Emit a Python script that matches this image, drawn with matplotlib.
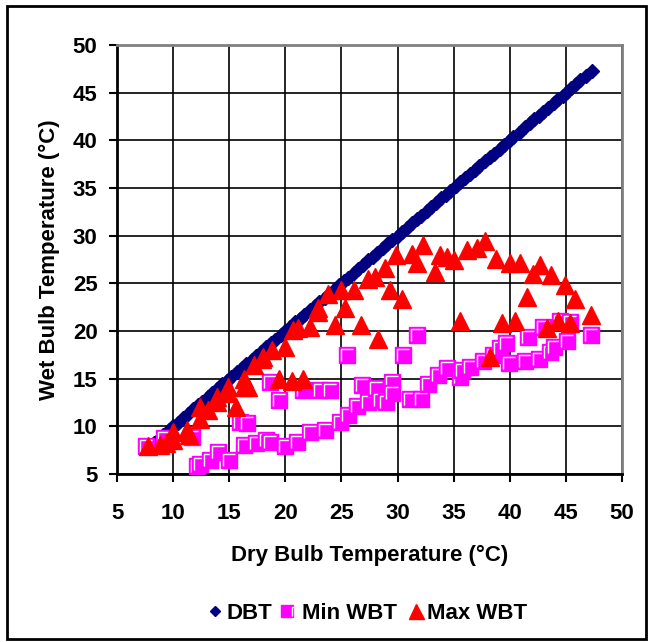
import matplotlib
matplotlib.use("Agg")
import matplotlib.pyplot as plt
from matplotlib.patches import Rectangle
from matplotlib.path import Path
from matplotlib.legend_handler import HandlerTuple

# Dry bulb temperatures (deg C), plotted against themselves as the reference line
dbt = [7.8, 8.3, 8.7, 9.1, 9.6, 10.0, 10.4, 10.9, 11.3, 11.8, 12.2, 12.6,
       13.1, 13.5, 13.9, 14.4, 14.8, 15.2, 15.7, 16.1, 16.5, 17.0, 17.4, 17.8,
       18.3, 18.7, 19.1, 19.6, 20.0, 20.4, 20.9, 21.3, 21.7, 22.2, 22.6, 23.0,
       23.5, 23.9, 24.3, 24.8, 25.2, 25.6, 26.1, 26.5, 26.9, 27.4, 27.8, 28.2,
       28.7, 29.1, 29.5, 30.0, 30.4, 30.8, 31.3, 31.7, 32.1, 32.6, 33.0, 33.4,
       33.9, 34.3, 34.7, 35.2, 35.6, 36.0, 36.5, 36.9, 37.3, 37.8, 38.2, 38.6,
       39.1, 39.5, 39.9, 40.3, 40.8, 41.4, 41.8, 42.2, 42.6, 43.0, 43.4, 43.9,
       44.3, 44.7, 45.1, 45.5, 45.9, 46.3, 46.8, 47.3]

# Minimum wet bulb temperature
min_x = [7.6, 9.2, 11.7, 12.1, 12.4, 13.3, 14.0, 15.0, 16.0, 16.3, 16.6, 17.4,
         18.3, 18.6, 18.6, 19.4, 20.0, 21.0, 21.6, 22.2, 23.1, 23.5, 24.0, 24.9,
         25.5, 25.6, 26.4, 26.8, 27.4, 28.1, 28.4, 29.0, 29.5, 29.5, 30.5, 31.1,
         31.7, 32.1, 32.7, 33.6, 34.4, 35.6, 35.7, 36.5, 37.6, 38.5, 39.1, 39.7,
         39.9, 41.4, 41.6, 42.6, 43.0, 43.6, 43.9, 44.5, 45.1, 45.4, 47.2]
min_wbt = [7.9, 8.8, 8.9, 5.8, 6.1, 6.5, 7.3, 6.5, 10.5, 8.0, 10.3, 8.2,
           8.6, 8.4, 14.7, 12.8, 7.9, 8.4, 13.8, 9.4, 13.8, 9.6, 13.8, 10.5,
           17.5, 11.2, 12.1, 14.3, 12.6, 14.0, 12.8, 12.6, 14.6, 13.5, 17.5, 12.9,
           19.6, 12.9, 14.4, 15.4, 16.1, 15.2, 15.9, 16.2, 16.8, 17.5, 18.2, 18.7,
           16.6, 16.9, 19.4, 17.1, 20.4, 17.8, 18.3, 21.1, 19.0, 20.9, 19.6]

# Maximum wet bulb temperature
max_x = [7.8, 8.8, 9.4, 10.0, 10.0, 11.2, 11.4, 12.4, 12.4, 13.1, 13.9, 13.9,
         14.9, 14.9, 15.6, 16.3, 16.3, 16.7, 17.2, 17.9, 18.0, 18.8, 19.4, 20.0,
         20.6, 20.7, 21.1, 21.6, 22.2, 22.9, 22.9, 23.8, 24.4, 25.0, 25.3, 26.1,
         26.7, 27.4, 28.0, 28.3, 28.9, 29.3, 29.9, 30.4, 31.3, 31.7, 32.3, 33.3,
         33.8, 34.4, 35.0, 35.6, 36.2, 37.1, 37.8, 38.2, 38.8, 39.3, 40.0, 40.5,
         40.9, 41.5, 42.1, 42.7, 43.3, 43.7, 44.3, 44.9, 45.4, 45.8, 47.2]
max_wbt = [7.9, 8.0, 8.3, 8.6, 9.4, 9.6, 9.1, 10.8, 12.0, 11.7, 12.6, 13.1,
           13.5, 14.1, 12.0, 14.1, 15.0, 14.1, 16.4, 17.1, 17.3, 18.0, 15.0, 18.3,
           14.8, 20.1, 20.3, 15.0, 20.4, 22.0, 22.4, 23.9, 20.6, 24.3, 22.4, 24.3,
           20.6, 25.5, 25.7, 19.2, 26.6, 24.3, 28.0, 23.4, 28.1, 27.1, 29.0, 26.2,
           28.0, 27.8, 27.4, 21.1, 28.5, 28.7, 29.4, 17.3, 27.6, 20.8, 27.1, 21.0,
           27.1, 23.6, 26.0, 26.9, 20.3, 25.9, 21.0, 24.8, 20.8, 23.4, 21.7]

x_ticks = [5, 10, 15, 20, 25, 30, 35, 40, 45, 50]
y_ticks = [5, 10, 15, 20, 25, 30, 35, 40, 45, 50]

plt.rcParams["font.family"] = ["Liberation Sans", "DejaVu Sans"]
plt.rcParams["font.weight"] = "bold"
FS = 16

# white highlight inside the square markers
SQ = 11.5
hl = Path([(-0.35, -0.4), (-0.35, 0.35), (0.4, 0.35)],
          [Path.MOVETO, Path.LINETO, Path.LINETO])

fig = plt.figure(figsize=(6.53, 6.42), dpi=100)
ax = fig.add_axes([0.1792, 0.2617, 0.7733, 0.6682])

h_dbt, = ax.plot(dbt, dbt, linestyle="none", marker="D", markersize=7.0,
                 color="#000080", zorder=3)

z = 4.0
for x, y in zip(min_x, min_wbt):
    sq, = ax.plot([x], [y], linestyle="none", marker="s", markersize=SQ,
                  markerfacecolor="#FF00FF", markeredgecolor="#FF00FF",
                  markeredgewidth=1, zorder=z)
    lh, = ax.plot([x], [y], linestyle="none", marker=hl, markersize=SQ * 0.8,
                  markerfacecolor="none", markeredgecolor="white",
                  markeredgewidth=1, zorder=z + 0.0005)
    z += 0.001

h_max, = ax.plot(max_x, max_wbt, linestyle="none", marker="^", markersize=13.5,
                 color="#FF0000", zorder=5)

ax.set_xlim(5, 50)
ax.set_ylim(5, 50)
ax.set_xticks(x_ticks)
ax.set_yticks(y_ticks)
ax.grid(True, color="black", linewidth=1.2)
ax.set_axisbelow(True)

for side in ["left", "bottom"]:
    ax.spines[side].set_linewidth(2)
    ax.spines[side].set_color("black")
for side in ["top", "right"]:
    ax.spines[side].set_linewidth(2)
    ax.spines[side].set_color("#808080")

ax.tick_params(direction="out", length=6, width=1.5, labelsize=FS)
ax.tick_params(axis="y", pad=8)
ax.tick_params(axis="x", pad=15)
for lbl in ax.get_xticklabels() + ax.get_yticklabels():
    lbl.set_fontweight("bold")

ax.set_xlabel("Dry Bulb Temperature (°C)", fontsize=FS, fontweight="bold",
              labelpad=15)
ax.set_ylabel("Wet Bulb Temperature (°C)", fontsize=FS, fontweight="bold",
              labelpad=9)

leg = fig.legend([h_dbt, (sq, lh), h_max], ["DBT", "Min WBT", "Max WBT"],
                 handler_map={tuple: HandlerTuple(ndivide=None, pad=0)},
                 loc="center", bbox_to_anchor=(0.562, 0.045), ncol=3,
                 frameon=False, fontsize=FS, handletextpad=0.1,
                 columnspacing=0.45, handlelength=0.8, markerscale=0.8)
for t in leg.get_texts():
    t.set_fontweight("bold")

# outer chart border
fig.patches.append(Rectangle((7 / 653, 1 - 639 / 642), 639 / 653, 633 / 642,
                             transform=fig.transFigure, fill=False,
                             edgecolor="black", linewidth=2))

fig.savefig("out.png", dpi=100)
